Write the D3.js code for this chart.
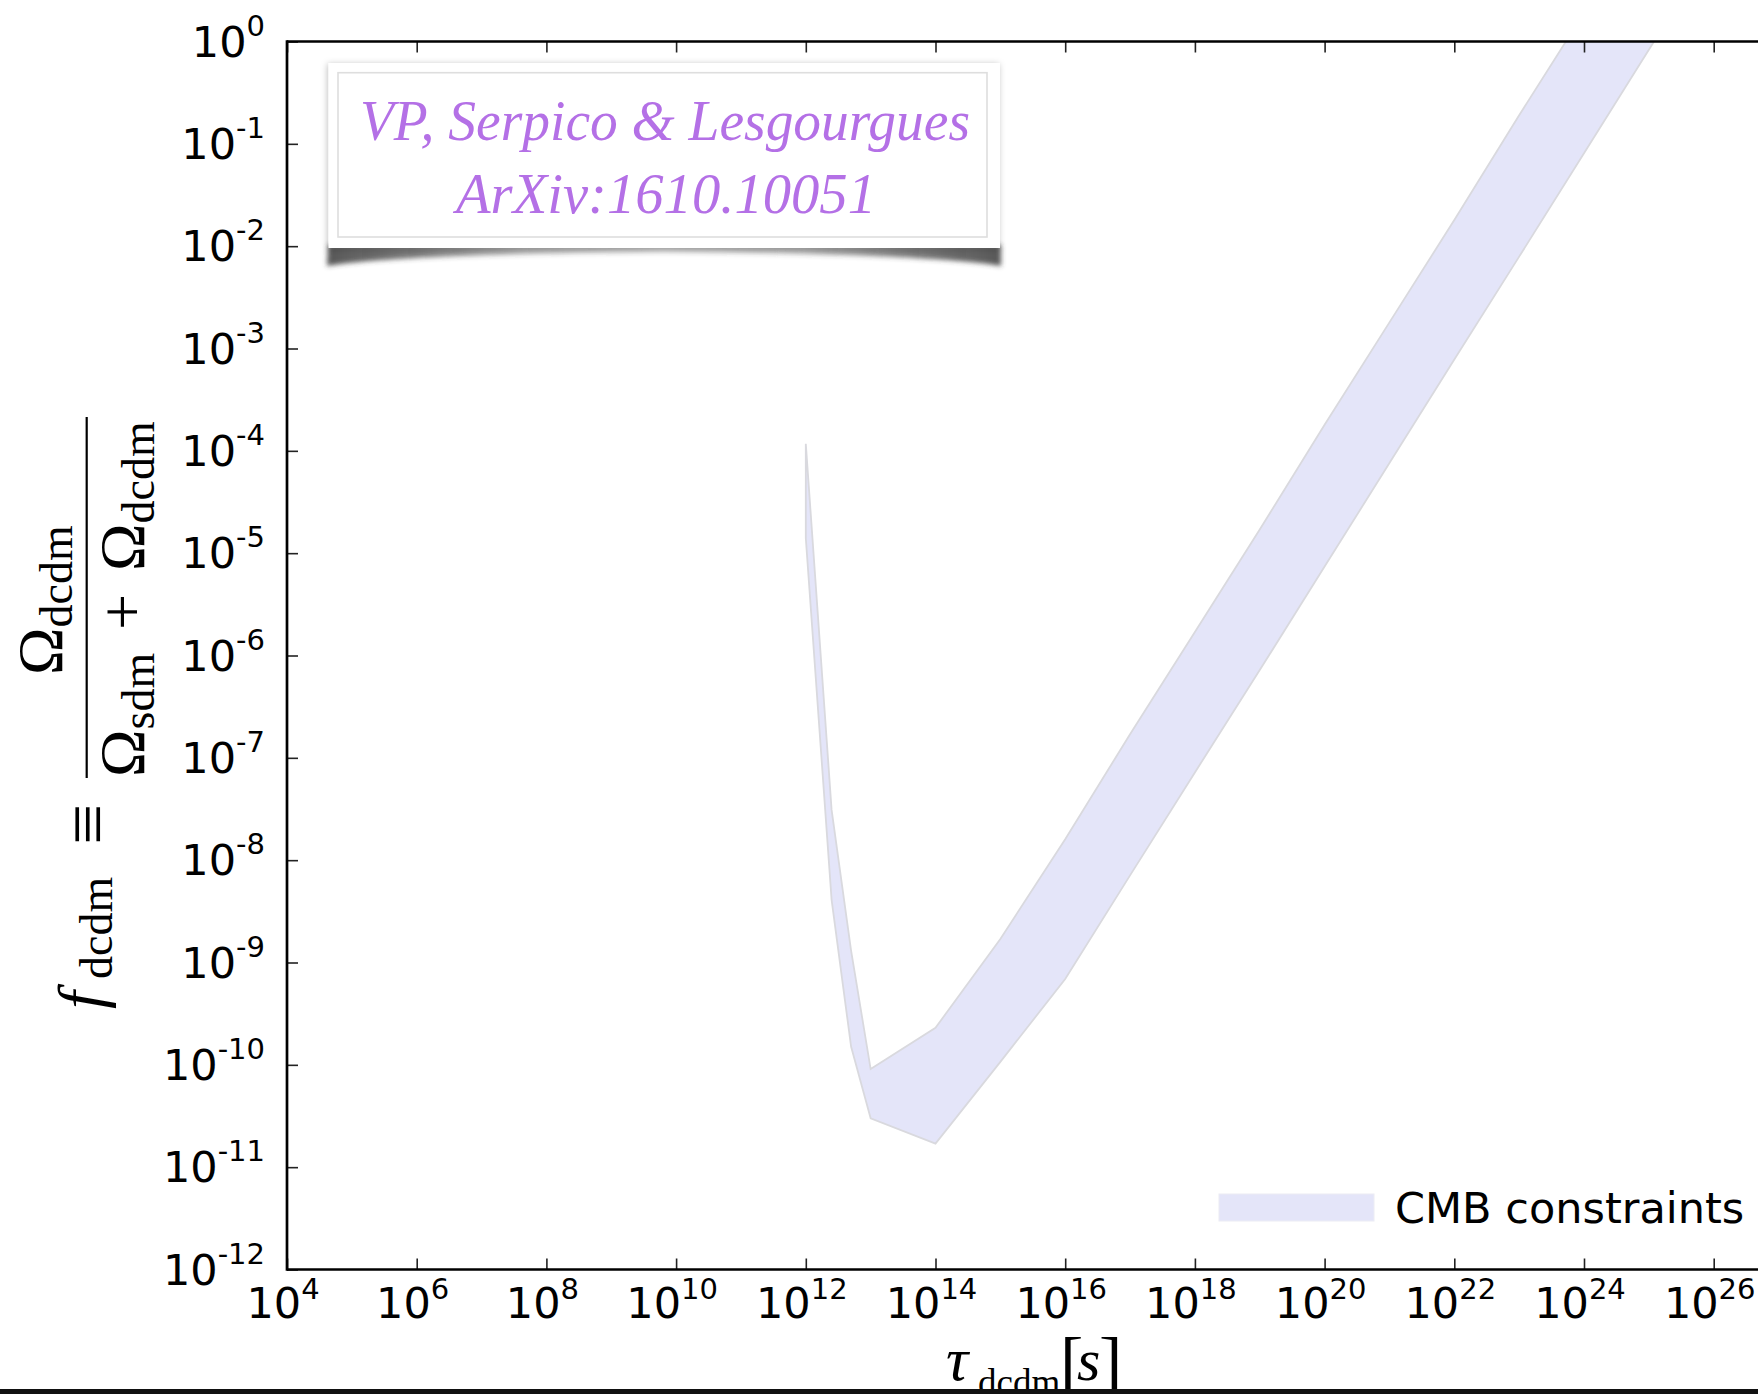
<!DOCTYPE html>
<html>
<head>
<meta charset="utf-8">
<script src="https://cdn.jsdelivr.net/npm/d3@7"></script>
<style>
  html, body { margin: 0; padding: 0; background: #ffffff; }
  svg { display: block; }
</style>
</head>
<body>
<script>
// Decaying-dark-matter lifetime grid (s) and the CMB-allowed band edges
// for the fraction f_dcdm at each lifetime.
const tau = [1e12, 2.5e12, 5e12, 1e13, 1e14, 1e15, 1e16, 1e17, 1e18, 1e19,
             1e20, 1e21, 1e22, 1e23, 1e24, 1e25, 1e26];
const fUpper = [1.17e-4, 3.1e-8, 1.3e-9, 9.1e-11, 2.3e-10, 1.7e-9, 1.6e-8, 1.7e-7,
                1.7e-6, 1.7e-5, 1.8e-4, 1.8e-3, 1.8e-2, 0.19, 1.9, 19.5, 200];
const fLower = [1.4e-5, 4.1e-9, 1.5e-10, 3.0e-11, 1.7e-11, 1.07e-10, 6.9e-10, 7.1e-9,
                7.2e-8, 7.2e-7, 7.4e-6, 7.6e-5, 7.8e-4, 7.9e-3, 8.1e-2, 0.83, 8.5];

// Axis ticks (powers of ten)
const xTickExponents = [4, 6, 8, 10, 12, 14, 16, 18, 20, 22, 24, 26];
const yTickExponents = [0, -1, -2, -3, -4, -5, -6, -7, -8, -9, -10, -11, -12];

const legendLabel = "CMB constraints";
const creditLines = ["VP, Serpico & Lesgourgues", "ArXiv:1610.10051"];

// ---------------------------------------------------------------
const W = 1758, H = 1394;
const PL = 287, PT = 41.5, PB = 1269.5;
const decadeX = 64.85;

const bandFill = "#e4e5f9";
const bandEdge = "#d9d9de";
const creditColor = "#b470e6";

const svg = d3.select("body").append("svg")
  .attr("width", W).attr("height", H)
  .attr("viewBox", `0 0 ${W} ${H}`);

const defs = svg.append("defs");
defs.append("clipPath").attr("id", "plotClip")
  .append("rect").attr("x", PL).attr("y", PT).attr("width", 2000).attr("height", PB - PT);

const soft = defs.append("filter").attr("id", "boxShadow")
  .attr("x", "-5%").attr("y", "-10%").attr("width", "110%").attr("height", "130%");
soft.append("feDropShadow").attr("dx", -1).attr("dy", 1).attr("stdDeviation", 3)
  .attr("flood-color", "#000").attr("flood-opacity", 0.25);

const blur = defs.append("filter").attr("id", "curlBlur")
  .attr("x", "-5%").attr("y", "-100%").attr("width", "110%").attr("height", "300%");
blur.append("feGaussianBlur").attr("stdDeviation", 2.6);

// shadow under the credit card: dark at the lifted corners, pale in the middle
const curlGrad = defs.append("linearGradient").attr("id", "curlGrad")
  .attr("x1", "0%").attr("x2", "100%").attr("y1", "0%").attr("y2", "0%");
[[0, 0.85], [0.12, 0.7], [0.3, 0.42], [0.5, 0.32], [0.7, 0.42], [0.88, 0.7], [1, 0.85]]
  .forEach(([o, a]) => curlGrad.append("stop").attr("offset", o)
    .attr("stop-color", "#3a3a3a").attr("stop-opacity", a));

const x = d3.scaleLog().domain([1e4, 1e28]).range([PL, PL + 24 * decadeX]);
const y = d3.scaleLog().domain([1e-12, 1]).range([PB, PT]);

// ---- allowed band -------------------------------------------------
const band = tau.map((t, i) => ({ t, lo: fLower[i], hi: fUpper[i] }));
const area = d3.area()
  .x(d => x(d.t))
  .y0(d => y(d.lo))
  .y1(d => y(d.hi));

svg.append("g").attr("clip-path", "url(#plotClip)")
  .append("path")
  .datum(band)
  .attr("d", area)
  .attr("fill", bandFill)
  .attr("stroke", bandEdge)
  .attr("stroke-width", 1.8)
  .attr("stroke-linejoin", "miter");

// ---- ticks (inward, matplotlib style) ----------------------------
const xTicks = xTickExponents.map(e => Math.pow(10, e));
const yTicks = yTickExponents.map(e => Math.pow(10, e));

function styleTicks(g) {
  g.select(".domain").remove();
  g.selectAll(".tick line").attr("stroke", "#222").attr("stroke-width", 1.6);
  g.selectAll(".tick text").remove();
}

svg.append("g").attr("transform", `translate(0,${PB})`)
  .call(d3.axisBottom(x).tickValues(xTicks).tickSize(-11).tickSizeOuter(0).tickFormat(() => ""))
  .call(styleTicks);
svg.append("g").attr("transform", `translate(0,${PT})`)
  .call(d3.axisTop(x).tickValues(xTicks).tickSize(-11).tickSizeOuter(0).tickFormat(() => ""))
  .call(styleTicks);
svg.append("g").attr("transform", `translate(${PL},0)`)
  .call(d3.axisLeft(y).tickValues(yTicks).tickSize(-11).tickSizeOuter(0).tickFormat(() => ""))
  .call(styleTicks);

// ---- spines -------------------------------------------------------
const spine = svg.append("g").attr("stroke", "#000").attr("stroke-width", 2.7).attr("fill", "none");
spine.append("line").attr("x1", PL).attr("x2", W + 10).attr("y1", PT).attr("y2", PT);
spine.append("line").attr("x1", PL).attr("x2", W + 10).attr("y1", PB).attr("y2", PB);
spine.append("line").attr("x1", PL).attr("x2", PL).attr("y1", PT - 1.3).attr("y2", PB + 1.3);

// ---- tick labels 10^n ---------------------------------------------
const tickFont = "'DejaVu Sans', sans-serif";
const xl = svg.append("g").attr("font-family", tickFont).attr("fill", "#000");
xTickExponents.forEach((e, i) => {
  const t = xl.append("text")
    .attr("x", x(xTicks[i]) - 4)
    .attr("y", 1318)
    .attr("text-anchor", "middle")
    .attr("font-size", 43);
  t.append("tspan").text("10");
  t.append("tspan").attr("dy", -19).attr("font-size", 29).text(String(e));
});

const yl = svg.append("g").attr("font-family", tickFont).attr("fill", "#000");
yTickExponents.forEach((e, i) => {
  const t = yl.append("text")
    .attr("x", 265)
    .attr("y", y(yTicks[i]) + 15)
    .attr("text-anchor", "end")
    .attr("font-size", 43);
  t.append("tspan").text("10");
  t.append("tspan").attr("dy", -21).attr("font-size", 29).text(e === 0 ? "0" : "-" + Math.abs(e));
});

// ---- legend -------------------------------------------------------
const lg = svg.append("g");
lg.append("rect").attr("x", 1219).attr("y", 1194).attr("width", 155).attr("height", 27)
  .attr("fill", bandFill).attr("stroke", "#ececf4").attr("stroke-width", 1);
lg.append("text").attr("x", 1395).attr("y", 1223)
  .attr("font-family", tickFont).attr("font-size", 43).attr("fill", "#000")
  .text(legendLabel);

// ---- credit box ---------------------------------------------------
const cb = svg.append("g");
cb.append("path")
  .attr("d", "M328,245 L1001,245 L1001,266 Q930,254 664,252 Q398,254 327,266 Z")
  .attr("fill", "url(#curlGrad)")
  .attr("filter", "url(#curlBlur)");
cb.append("rect").attr("x", 328.5).attr("y", 63).attr("width", 671.5).attr("height", 185)
  .attr("fill", "#ffffff").attr("filter", "url(#boxShadow)");
cb.append("rect").attr("x", 338).attr("y", 72.7).attr("width", 649).attr("height", 164.3)
  .attr("fill", "none").attr("stroke", "#dedede").attr("stroke-width", 1.6);
const creditFont = "'Liberation Serif', 'DejaVu Serif', serif";
cb.append("text").attr("x", 665).attr("y", 140).attr("text-anchor", "middle")
  .attr("font-family", creditFont).attr("font-style", "italic").attr("font-size", 57)
  .attr("fill", creditColor)
  .attr("textLength", 610).attr("lengthAdjust", "spacingAndGlyphs")
  .text(creditLines[0]);
cb.append("text").attr("x", 666).attr("y", 213).attr("text-anchor", "middle")
  .attr("font-family", creditFont).attr("font-style", "italic").attr("font-size", 57)
  .attr("fill", creditColor)
  .attr("textLength", 420).attr("lengthAdjust", "spacingAndGlyphs")
  .text(creditLines[1]);

// ---- y-axis label: f_dcdm ≡ Ω_dcdm / (Ω_sdm + Ω_dcdm) --------------
const mathFont = "'Liberation Serif', 'DejaVu Serif', serif";
const ylab = svg.append("g").attr("transform", "rotate(-90)")
  .attr("font-family", mathFont).attr("fill", "#000");
// local coords: (lx, ly) -> screen (ly, -lx)
const fTxt = ylab.append("text").attr("x", -1009).attr("y", 102).attr("font-size", 64);
fTxt.append("tspan").attr("font-style", "italic").text("f");
ylab.append("text").attr("x", -979).attr("y", 112).attr("font-size", 46).text("dcdm");
ylab.append("text").attr("x", -845).attr("y", 112).attr("font-size", 73).text("\u2261");

const num = ylab.append("text").attr("x", -675).attr("y", 62).attr("font-size", 64);
num.append("tspan").text("\u03A9");
num.append("tspan").attr("dy", 10).attr("font-size", 46).text("dcdm");

const den1 = ylab.append("text").attr("x", -777).attr("y", 144).attr("font-size", 64);
den1.append("tspan").text("\u03A9");
den1.append("tspan").attr("dy", 10).attr("font-size", 46).text("sdm");
ylab.append("text").attr("x", -612).attr("y", 144).attr("font-size", 64)
  .attr("text-anchor", "middle").text("+");
const den2 = ylab.append("text").attr("x", -571).attr("y", 144).attr("font-size", 64);
den2.append("tspan").text("\u03A9");
den2.append("tspan").attr("dy", 10).attr("font-size", 46).text("dcdm");

svg.append("line").attr("x1", 86.7).attr("x2", 86.7).attr("y1", 417).attr("y2", 778)
  .attr("stroke", "#000").attr("stroke-width", 2.2);

// ---- x-axis label: τ_dcdm[s] ---------------------------------------
const xlab = svg.append("g").attr("font-family", mathFont).attr("fill", "#000");
xlab.append("text").attr("x", 946).attr("y", 1380).attr("font-size", 62)
  .attr("font-style", "italic").text("\u03C4");
xlab.append("text").attr("x", 978).attr("y", 1395).attr("font-size", 37).text("dcdm");
xlab.append("text").attr("x", 1060).attr("y", 1386).attr("font-size", 70).text("[");
xlab.append("text").attr("x", 1077).attr("y", 1380).attr("font-size", 60)
  .attr("font-style", "italic").text("s");
xlab.append("text").attr("x", 1099).attr("y", 1386).attr("font-size", 70).text("]");

// ---- dark frame edge along the bottom ----------------------------
svg.append("rect").attr("x", 0).attr("y", 1389).attr("width", W).attr("height", 5)
  .attr("fill", "#111");
</script>
</body>
</html>
